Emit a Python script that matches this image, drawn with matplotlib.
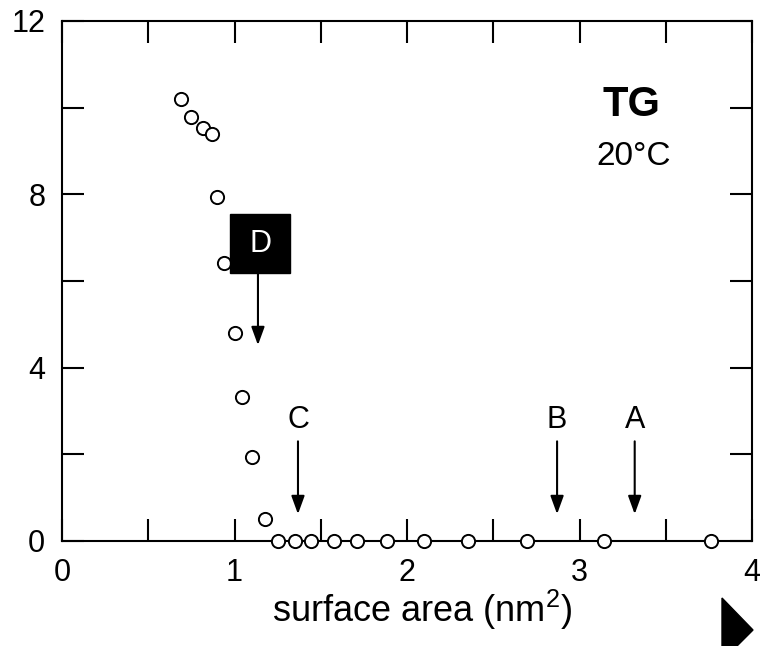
import matplotlib
matplotlib.use("Agg")
import matplotlib.pyplot as plt
from matplotlib.patches import Rectangle, Polygon

plt.rcParams['font.family'] = ['Liberation Sans', 'DejaVu Sans']
plt.rcParams['mathtext.fontset'] = 'custom'
plt.rcParams['mathtext.rm'] = 'Liberation Sans'

# surface area (nm^2) vs pressure, TG at 20 C
area = [0.690, 0.748, 0.817, 0.870, 0.899, 0.939, 1.003, 1.043, 1.101, 1.177,
        1.252, 1.351, 1.443, 1.577, 1.710, 1.884, 2.099, 2.354, 2.696, 3.142, 3.762]
pressure = [10.20, 9.79, 9.53, 9.39, 7.94, 6.42, 4.80, 3.32, 1.94, 0.51,
            0, 0, 0, 0, 0, 0, 0, 0, 0, 0, 0]

# arrow marks along the curve
marks = ['C', 'B', 'A']
mark_x = [1.368, 2.87, 3.32]

xticks = [0, 1, 2, 3, 4]
yticks = [0, 4, 8, 12]

fig = plt.figure(figsize=(7.6, 6.46), dpi=100)
ax = fig.add_axes([62 / 760, 105 / 646, 690 / 760, 520 / 646])

ax.plot(area, pressure, 'o', ms=9.5, mfc='white', mec='black', mew=1.4,
        clip_on=False, zorder=5)

ax.set_xlim(0, 4)
ax.set_ylim(0, 12)
# ticks every 0.5 (x) and 2 (y), labels only on every other one
ax.set_xticks([i * 0.5 for i in range(9)])
ax.set_xticklabels([str(xticks[i // 2]) if i % 2 == 0 else '' for i in range(9)])
ax.set_yticks([i * 2 for i in range(7)])
ax.set_yticklabels([str(yticks[i // 2]) if i % 2 == 0 else '' for i in range(7)])
ax.tick_params(direction='in', length=16, width=1.5, top=True, right=True,
               labelsize=22, pad=12)
for s in ax.spines.values():
    s.set_linewidth(1.5)

ax.set_xlabel('surface area (nm$^2$)', fontsize=26)
ax.xaxis.set_label_coords(0.522, -0.09)

ax.text(0.825, 0.838, 'TG', transform=ax.transAxes, fontsize=30,
        fontweight='bold', ha='center', va='center')
ax.text(0.829, 0.740, '20°C', transform=ax.transAxes, fontsize=24,
        ha='center', va='center')

arrow_kw = dict(arrowstyle='-|>,head_length=0.55,head_width=0.2',
                lw=1.5, color='black', mutation_scale=20, shrinkA=0, shrinkB=0)
for name, x in zip(marks, mark_x):
    ax.text(x, 2.8, name, fontsize=22, ha='center', va='center')
    ax.annotate('', xy=(x, 0.62), xytext=(x, 2.3), arrowprops=arrow_kw)

# black label box for D
ax.add_patch(Rectangle((0.974, 6.18), 0.348, 1.37, color='black', zorder=6))
ax.text(1.148, 6.86, 'D', color='white', fontsize=22, ha='center',
        va='center', zorder=7)
ax.annotate('', xy=(1.136, 4.52), xytext=(1.136, 6.3), arrowprops=arrow_kw,
            zorder=7)

tri = [(722, 598), (753, 630), (737, 646), (722, 646)]
fig.patches.append(Polygon([(px / 760, 1 - py / 646) for px, py in tri],
                           closed=True, color='black',
                           transform=fig.transFigure, figure=fig))

fig.savefig('out.png', dpi=100)
